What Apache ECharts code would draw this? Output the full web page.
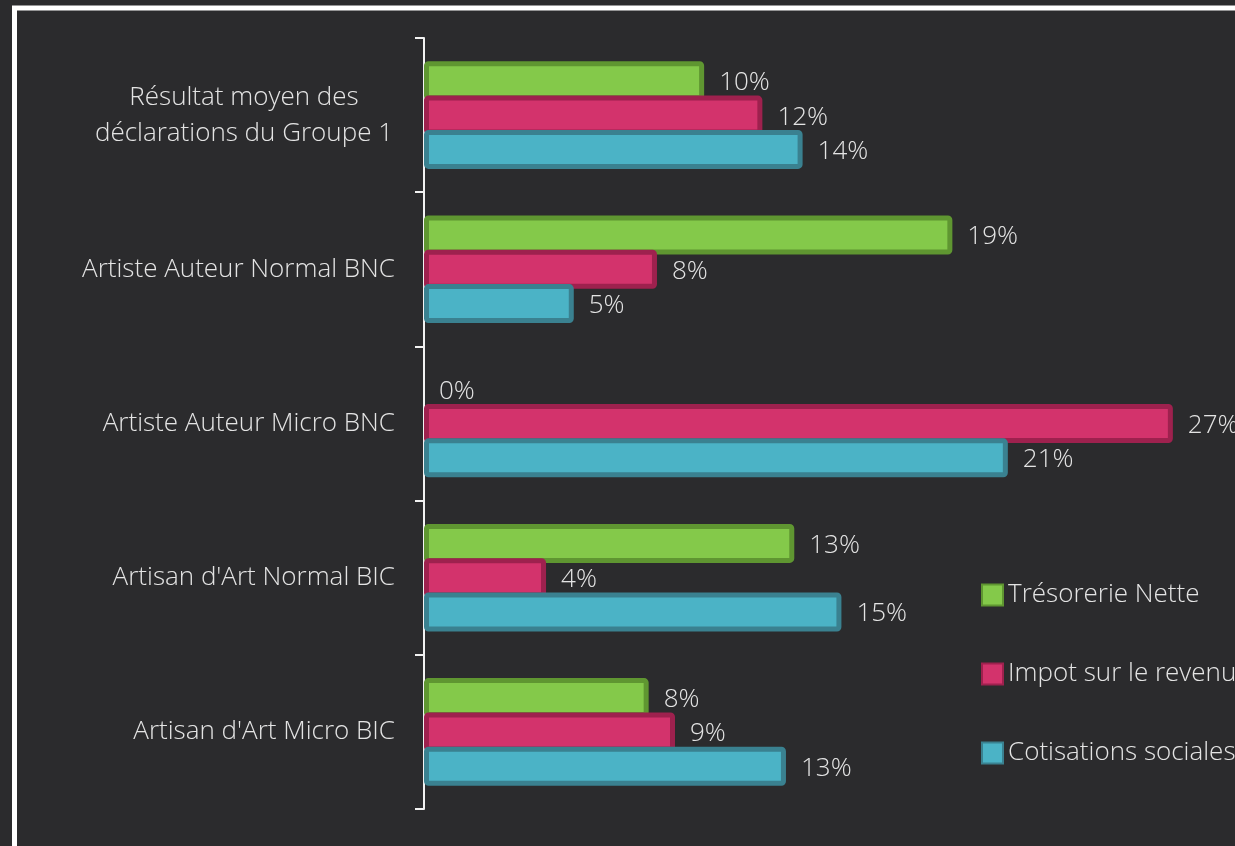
<!DOCTYPE html>
<html>
<head>
<meta charset="utf-8">
<script src="https://cdn.jsdelivr.net/npm/echarts@6/dist/echarts.min.js"></script>
<style>
  html, body { margin: 0; padding: 0; background: #2b2b2d; }
  #chart { width: 1235px; height: 846px; }
</style>
</head>
<body>
<div id="chart"></div>
<script>
// categories, top to bottom
const categories = [
  'Résultat moyen des\ndéclarations du Groupe 1',
  'Artiste Auteur Normal BNC',
  'Artiste Auteur Micro BNC',
  "Artisan d'Art Normal BIC",
  "Artisan d'Art Micro BIC"
]
const seriesNames = ['Trésorerie Nette', 'Impot sur le revenu', 'Cotisations sociales']
// values in %
const tresorerie = [10.1, 19.05, 0, 13.35, 8.1]
const impot = [12.2, 8.4, 27.0, 4.4, 9.05]
const cotisations = [13.65, 5.4, 21.05, 15.05, 13.05]

const fills = ['#84c94a', '#d3336c', '#4bb3c6']
const borders = ['#5f9631', '#9e214e', '#3a8190']

const textColor = '#e4e4e4'
const font = '"Open Sans", sans-serif'

const myChart = echarts.init(document.getElementById('chart'))

const makeSeries = (name, data, i) => ({
  name,
  type: 'bar',
  barWidth: 39,
  barGap: '-12%',
  // zero bars get no outline
  data: data.map((v) => (v === 0 ? { value: v, itemStyle: { borderWidth: 0 } } : v)),
  itemStyle: {
    color: fills[i],
    borderColor: borders[i],
    borderWidth: 5,
    borderRadius: 2
  },
  label: {
    show: true,
    position: 'right',
    distance: 15,
    offset: [0, 2],
    color: textColor,
    fontFamily: font,
    fontWeight: 300,
    fontSize: 26,
    formatter: (p) => Math.round(p.value) + '%'
  }
})

const option = {
  backgroundColor: '#2b2b2d',
  animation: false,
  graphic: [
    {
      type: 'rect',
      shape: { x: 14.5, y: 8, width: 2000, height: 2000 },
      style: { fill: 'none', stroke: '#ffffff', lineWidth: 5 },
      silent: true
    }
  ],
  legend: {
    orient: 'vertical',
    left: 976,
    top: 577,
    itemWidth: 21,
    itemHeight: 21,
    itemGap: 53,
    icon: 'rect',
    data: seriesNames,
    textStyle: {
      color: textColor,
      fontFamily: font,
      fontWeight: 300,
      fontSize: 26,
      lineHeight: 26
    }
  },
  grid: {
    left: 424,
    top: 38,
    right: 0,
    height: 771,
    containLabel: false
  },
  xAxis: {
    type: 'value',
    min: 0,
    max: 29.24,
    show: false,
    splitLine: { show: false }
  },
  yAxis: {
    type: 'category',
    inverse: true,
    data: categories,
    axisLine: { lineStyle: { color: '#f2f2f2', width: 2 } },
    axisTick: { show: true, length: 9, lineStyle: { color: '#f2f2f2', width: 2 } },
    axisLabel: {
      margin: 29,
      color: textColor,
      fontFamily: font,
      fontWeight: 300,
      fontSize: 26,
      lineHeight: 36,
      formatter: (v) => {
        if (v.indexOf('\n') < 0) return v
        return v.split('\n').map((s) => '{c|' + s + '}').join('\n')
      },
      rich: {
        c: {
          width: 302,
          align: 'center',
          color: textColor,
          fontFamily: font,
          fontWeight: 300,
          fontSize: 26,
          lineHeight: 36
        }
      }
    }
  },
  series: [
    makeSeries(seriesNames[0], tresorerie, 0),
    makeSeries(seriesNames[1], impot, 1),
    makeSeries(seriesNames[2], cotisations, 2)
  ]
}

myChart.setOption(option)
</script>
</body>
</html>
